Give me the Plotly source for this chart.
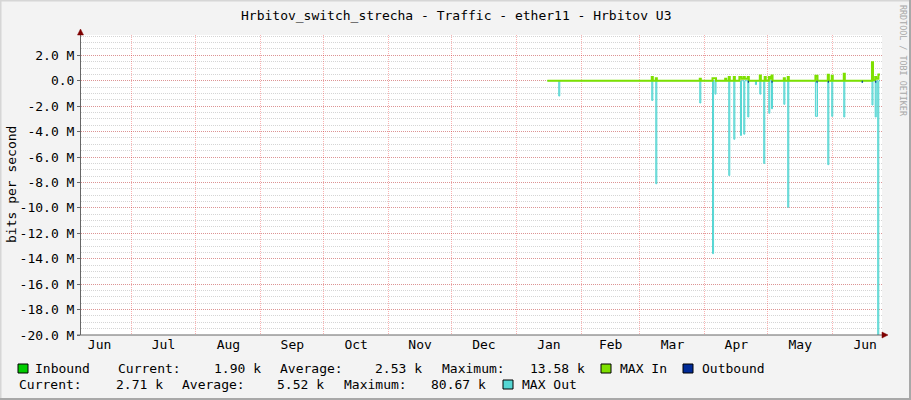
import plotly.graph_objects as go

# ---------------- data ----------------
TITLE = "Hrbitov_switch_strecha - Traffic - ether11 - Hrbitov U3"
Y_TITLE = "bits per second"
WATERMARK = "RRDTOOL / TOBI OETIKER"

X_RANGE = ["2022-06-07 03:00", "2023-06-24 13:00"]
Y_RANGE = [-20.0e6, 3.6e6]

y_tick_values = [2e6, 0, -2e6, -4e6, -6e6, -8e6, -10e6, -12e6, -14e6, -16e6, -18e6, -20e6]
y_tick_labels = ["2.0 M", "0.0", "-2.0 M", "-4.0 M", "-6.0 M", "-8.0 M", "-10.0 M",
                 "-12.0 M", "-14.0 M", "-16.0 M", "-18.0 M", "-20.0 M"]

# MAX Out (negative, cyan)
max_out_dates = [
    "2023-01-15 18:00",
    "2023-01-21 05:00", "2023-01-21 17:00",
    "2023-03-06 15:00", "2023-03-07 03:00",
    "2023-03-08 13:00", "2023-03-09 01:00",
    "2023-03-29 13:00", "2023-03-30 01:00",
    "2023-04-04 15:00", "2023-04-05 03:00",
    "2023-04-05 19:00", "2023-04-06 07:00",
    "2023-04-12 09:00", "2023-04-12 21:00",
    "2023-04-14 19:00", "2023-04-15 07:00",
    "2023-04-17 23:00", "2023-04-18 11:00",
    "2023-04-19 13:00", "2023-04-20 01:00",
    "2023-04-21 11:00", "2023-04-21 23:00",
    "2023-04-25 03:00", "2023-04-25 15:00",
    "2023-04-27 05:00", "2023-04-27 17:00",
    "2023-04-29 02:00", "2023-04-29 14:00",
    "2023-05-01 12:00", "2023-05-02 00:00",
    "2023-05-02 19:00", "2023-05-03 07:00",
    "2023-05-08 16:00", "2023-05-09 04:00",
    "2023-05-10 13:00", "2023-05-11 01:00",
    "2023-05-23 18:00", "2023-05-24 18:00",
    "2023-05-29 16:00", "2023-05-30 04:00",
    "2023-05-31 13:00", "2023-06-01 01:00",
    "2023-06-06 07:00", "2023-06-06 19:00",
    "2023-06-14 21:00", "2023-06-15 09:00",
    "2023-06-19 18:00", "2023-06-20 06:00",
    "2023-06-21 07:00", "2023-06-21 19:00",
    "2023-06-22 12:00", "2023-06-23 00:00", "2023-06-23 14:00",
]
max_out_values = [
    0,
    -1.2e6, 0,
    -1.55e6, 0,
    -8.1e6, 0,
    -1.75e6, 0,
    -13.6e6, 0,
    -1.05e6, 0,
    -7.45e6, 0,
    -4.6e6, 0,
    -4.3e6, 0,
    -4.2e6, 0,
    -2.85e6, 0,
    -0.3e6, 0,
    -1.05e6, 0,
    -6.5e6, 0,
    -2.55e6, 0,
    -2.2e6, 0,
    -1.85e6, 0,
    -9.95e6, 0,
    -2.8e6, 0,
    -6.6e6, 0,
    -2.8e6, 0,
    -2.85e6, 0,
    -0.12e6, 0,
    -1.9e6, 0,
    -2.85e6, 0,
    -21.0e6, 0, 0,
]

# MAX In (positive, lime)
max_in_dates = [
    "2023-01-15 18:00",
    "2023-03-06 15:00", "2023-03-07 03:00",
    "2023-03-08 13:00", "2023-03-09 01:00",
    "2023-03-29 13:00", "2023-03-30 01:00",
    "2023-04-04 15:00", "2023-04-06 07:00",
    "2023-04-10 16:00", "2023-04-11 04:00",
    "2023-04-12 09:00", "2023-04-12 21:00",
    "2023-04-14 19:00", "2023-04-15 07:00",
    "2023-04-17 11:00", "2023-04-18 11:00", "2023-04-19 13:00", "2023-04-20 01:00",
    "2023-04-21 11:00", "2023-04-21 23:00",
    "2023-04-27 05:00", "2023-04-27 17:00",
    "2023-04-29 13:00", "2023-04-30 01:00",
    "2023-05-01 12:00", "2023-05-02 00:00", "2023-05-02 19:00", "2023-05-03 07:00",
    "2023-05-08 16:00", "2023-05-09 04:00",
    "2023-05-10 13:00", "2023-05-11 01:00",
    "2023-05-23 18:00", "2023-05-24 18:00",
    "2023-05-29 16:00", "2023-05-30 04:00",
    "2023-05-31 13:00", "2023-06-01 01:00",
    "2023-06-06 07:00", "2023-06-06 19:00",
    "2023-06-19 18:00", "2023-06-20 06:00", "2023-06-21 07:00", "2023-06-21 19:00",
    "2023-06-22 20:00", "2023-06-23 14:00",
]
max_in_values = [
    0,
    0.3e6, 0,
    0.2e6, 0,
    0.15e6, 0,
    0.2e6, 0,
    0.15e6, 0,
    0.3e6, 0,
    0.3e6, 0,
    0.3e6, 0.15e6, 0.3e6, 0.15e6,
    0.3e6, 0,
    0.42e6, 0,
    0.3e6, 0,
    0.3e6, 0.15e6, 0.42e6, 0,
    0.2e6, 0,
    0.3e6, 0,
    0.4e6, 0,
    0.47e6, 0,
    0.4e6, 0,
    0.55e6, 0,
    1.45e6, 0.05e6, 0.3e6, 0.15e6,
    0.5e6, 0.5e6,
]

# Outbound (negative, dark blue, very small)
outbound_dates = [
    "2023-01-15 18:00",
    "2023-04-21 12:00", "2023-04-22 00:00",
    "2023-05-02 19:00", "2023-05-03 07:00",
    "2023-05-24 06:00", "2023-05-24 18:00",
    "2023-05-29 16:00", "2023-05-30 04:00",
    "2023-06-14 21:00", "2023-06-15 09:00",
    "2023-06-21 07:00", "2023-06-21 19:00",
    "2023-06-23 14:00",
]
outbound_values = [
    0,
    -0.15e6, 0,
    -0.15e6, 0,
    -0.15e6, 0,
    -0.15e6, 0,
    -0.15e6, 0,
    -0.15e6, 0,
    0,
]

legend_names = ["Inbound", "MAX In", "Outbound", "MAX Out"]
stat_labels = ["Current:", "Average:", "Maximum:"]
inbound_stats = ["1.90 k", "2.53 k", "13.58 k"]
outbound_stats = ["2.71 k", "5.52 k", "80.67 k"]

# ---------------- styling ----------------
W, H = 911, 400
L, R, T, B = 81, 29, 35, 65
PW, PH = W - L - R, H - T - B
FONT = "DejaVu Sans Mono"
FS = 13
BG = "#F3F3F3"
C_IN = "#00CC00"
C_MAXIN = "#7EE000"
C_OUT = "#002A97"
C_MAXOUT = "#55D6D3"
GRID_MINOR = "rgba(150,150,150,0.4)"
GRID_MAJOR = "rgba(240,0,0,0.3)"
ARROW = "#7F0000"


def px(x):
    return (x - L) / PW


def py(y):
    return (H - B - y) / PH


fig = go.Figure()

fig.add_trace(go.Scatter(
    x=max_out_dates, y=max_out_values, mode="lines", line_shape="hv",
    line=dict(color=C_MAXOUT, width=1), fill="tozeroy",
    fillcolor="rgba(85,214,211,0.45)", hoverinfo="skip", showlegend=False))
fig.add_trace(go.Scatter(
    x=max_in_dates, y=max_in_values, mode="lines", line_shape="hv",
    line=dict(color=C_MAXIN, width=2), hoverinfo="skip", showlegend=False))
fig.add_trace(go.Scatter(
    x=outbound_dates, y=outbound_values, mode="lines", line_shape="hv",
    line=dict(color=C_OUT, width=0), fill="tozeroy", fillcolor=C_OUT,
    hoverinfo="skip", showlegend=False))

shapes = []
# frame shading
shapes.append(dict(type="rect", xref="paper", yref="paper", x0=px(0), x1=px(W), y0=py(H), y1=py(H - 2),
                   fillcolor="#A8A8A8", line_width=0, layer="above"))
shapes.append(dict(type="rect", xref="paper", yref="paper", x0=px(W - 2), x1=px(W), y0=py(H), y1=py(0),
                   fillcolor="#A8A8A8", line_width=0, layer="above"))
shapes.append(dict(type="rect", xref="paper", yref="paper", x0=px(0), x1=px(1.5), y0=py(H - 2), y1=py(0),
                   fillcolor="#D6D6D6", line_width=0, layer="above"))
shapes.append(dict(type="rect", xref="paper", yref="paper", x0=px(0), x1=px(W - 2), y0=py(1.5), y1=py(0),
                   fillcolor="#D6D6D6", line_width=0, layer="above"))
# axis extensions and arrows
shapes.append(dict(type="line", xref="paper", yref="paper", x0=px(80.5), x1=px(80.5), y0=py(335), y1=py(31),
                   line=dict(color="#666666", width=1), layer="above"))
shapes.append(dict(type="line", xref="paper", yref="paper", x0=px(77), x1=px(884), y0=py(335), y1=py(335),
                   line=dict(color="#666666", width=1), layer="above"))
shapes.append(dict(type="path", xref="paper", yref="paper",
                   path=f"M {px(77.5)},{py(35)} L {px(83.5)},{py(35)} L {px(80.5)},{py(29)} Z",
                   fillcolor=ARROW, line=dict(color=ARROW, width=0.5), layer="above"))
shapes.append(dict(type="path", xref="paper", yref="paper",
                   path=f"M {px(882)},{py(332)} L {px(882)},{py(338)} L {px(888)},{py(335)} Z",
                   fillcolor=ARROW, line=dict(color=ARROW, width=0.5), layer="above"))

# legend squares
legend_colors = [C_IN, C_MAXIN, C_OUT, C_MAXOUT]
square_pos = [(18, 364), (601, 364), (683, 364), (503, 380)]
for col, (sx, sy) in zip(legend_colors, square_pos):
    shapes.append(dict(type="rect", xref="paper", yref="paper", x0=px(sx), x1=px(sx + 10),
                       y0=py(sy + 9), y1=py(sy), fillcolor=col, line=dict(color="black", width=1)))

annotations = []


def text(x, y, s, size=FS, color="black", anchor="left", angle=0):
    annotations.append(dict(x=px(x), y=py(y), xref="paper", yref="paper", text=s, showarrow=False,
                            xanchor=anchor, yanchor="middle", textangle=angle,
                            font=dict(family=FONT, size=size, color=color)))


text(456, 15, TITLE, anchor="center")
text(11, 185, Y_TITLE, anchor="center", angle=-90)
text(903, 61, WATERMARK, size=8.4, color="#A8A8A8", anchor="center", angle=90)

# legend row 1
text(33, 368, legend_names[0])
text(116, 368, stat_labels[0]); text(212, 368, inbound_stats[0])
text(278, 368, stat_labels[1]); text(373, 368, inbound_stats[1])
text(440, 368, stat_labels[2]); text(528, 368, inbound_stats[2])
text(618, 368, legend_names[1])
text(700, 368, legend_names[2])
# legend row 2
text(17, 384, stat_labels[0]); text(114, 384, outbound_stats[0])
text(180, 384, stat_labels[1]); text(275, 384, outbound_stats[1])
text(342, 384, stat_labels[2]); text(429, 384, outbound_stats[2])
text(520, 384, legend_names[3])

fig.update_layout(
    width=W, height=H,
    margin=dict(l=L, r=R, t=T, b=B, pad=0),
    paper_bgcolor=BG, plot_bgcolor="white",
    font=dict(family=FONT, size=FS, color="black"),
    showlegend=False,
    shapes=shapes, annotations=annotations,
    xaxis=dict(
        type="date", range=X_RANGE, tick0="2022-07-01", dtick="M1",
        ticklabelmode="period", tickformat="%b",
        showgrid=True, gridcolor=GRID_MAJOR, griddash="1px,1px", gridwidth=1,
        ticks="", showline=False, zeroline=False,
        tickfont=dict(family=FONT, size=FS, color="black"),
        fixedrange=True,
    ),
    yaxis=dict(
        range=Y_RANGE, tickmode="array", tickvals=y_tick_values, ticktext=y_tick_labels,
        showgrid=True, gridcolor=GRID_MAJOR, griddash="1px,1px", gridwidth=1,
        ticks="outside", ticklen=3, tickcolor="#666666",
        showline=False, zeroline=False,
        tickfont=dict(family=FONT, size=FS, color="black"),
        minor=dict(tickmode="linear", tick0=0, dtick=0.5e6, showgrid=True,
                   gridcolor=GRID_MINOR, griddash="1px,1px", gridwidth=1, ticks=""),
        fixedrange=True,
    ),
)

fig.write_html(
    "out.html",
    config={"displayModeBar": False, "staticPlot": True},
    post_script="document.body.style.margin='0';document.body.style.overflow='hidden';",
)
